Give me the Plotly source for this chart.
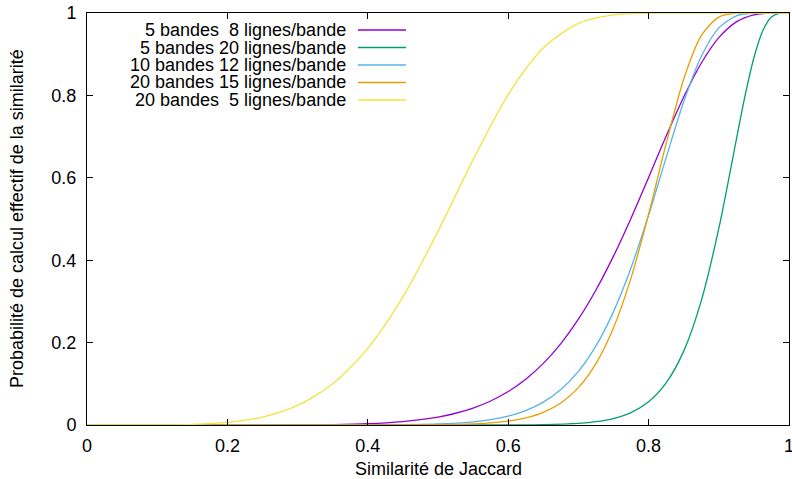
import plotly.graph_objects as go

# Similarité de Jaccard (x) and probability values (y)
s_purple = [0, 0.1, 0.2, 0.25, 0.3, 0.35, 0.4, 0.45, 0.475, 0.5, 0.525, 0.55, 0.575, 0.6,
            0.625, 0.65, 0.675, 0.7, 0.725, 0.75, 0.775, 0.8, 0.825, 0.85, 0.875, 0.9,
            0.925, 0.95, 0.975, 1.0]
p_purple = [0, 0, 0.0000128, 0.000076, 0.000328, 0.001125, 0.00327, 0.00838, 0.01289, 0.01938,
            0.02853, 0.04117, 0.05833, 0.08121, 0.1111, 0.1495, 0.1977, 0.2569, 0.3277, 0.4099,
            0.5020, 0.6008, 0.7012, 0.7962, 0.8781, 0.9401, 0.9785, 0.9957, 0.9998, 1.0]

s_green = [0, 0.2, 0.4, 0.5, 0.6, 0.65, 0.7, 0.725, 0.75, 0.775, 0.8, 0.825, 0.85, 0.875,
           0.9, 0.925, 0.9375, 0.95, 0.9625, 0.975, 0.9875, 1.0]
p_green = [0, 0, 0, 0.000005, 0.000183, 0.000906, 0.003985, 0.008023, 0.015756, 0.03018,
           0.05633, 0.1022, 0.1793, 0.3014, 0.4770, 0.6929, 0.7998, 0.8914, 0.9564, 0.9901,
           0.99946, 1.0]

s_blue = [0, 0.2, 0.4, 0.5, 0.55, 0.575, 0.6, 0.625, 0.65, 0.675, 0.7, 0.725, 0.75, 0.775,
          0.8, 0.825, 0.85, 0.875, 0.9, 0.925, 0.95, 0.975, 1.0]
p_blue = [0, 0, 0.00017, 0.00244, 0.00763, 0.01299, 0.02156, 0.03496, 0.05544, 0.08595,
          0.1301, 0.1920, 0.2752, 0.3817, 0.5093, 0.6490, 0.7844, 0.8945, 0.9638, 0.9931,
          0.9996, 1.0, 1.0]

s_orange = [0, 0.2, 0.4, 0.5, 0.55, 0.6, 0.625, 0.65, 0.675, 0.7, 0.725, 0.75, 0.775, 0.8,
            0.825, 0.85, 0.875, 0.9, 0.925, 0.95, 1.0]
p_orange = [0, 0, 0.00002, 0.00061, 0.00255, 0.00936, 0.01721, 0.03078, 0.05361, 0.09079,
            0.1490, 0.2359, 0.3572, 0.5115, 0.6830, 0.8393, 0.9449, 0.9901, 0.9994, 1.0, 1.0]

s_yellow = [0, 0.05, 0.1, 0.15, 0.2, 0.25, 0.3, 0.35, 0.4, 0.45, 0.5, 0.55, 0.6, 0.65, 0.7,
            0.75, 0.8, 0.85, 0.9, 0.95, 1.0]
p_yellow = [0, 0.00001, 0.0002, 0.0015, 0.0064, 0.0194, 0.0475, 0.0999, 0.186, 0.311, 0.470,
            0.644, 0.802, 0.915, 0.975, 0.9956, 0.9996, 1.0, 1.0, 1.0, 1.0]

series_names = ["5 bandes\u00a0\u00a08 lignes/bande", "5 bandes 20 lignes/bande",
                "10 bandes 12 lignes/bande", "20 bandes 15 lignes/bande",
                "20 bandes\u00a0\u00a05 lignes/bande"]
series_x = [s_purple, s_green, s_blue, s_orange, s_yellow]
series_y = [p_purple, p_green, p_blue, p_orange, p_yellow]
colors = ["#9400d3", "#009e73", "#56b4e9", "#e69f00", "#f0e442"]

tick_vals = [0, 0.2, 0.4, 0.6, 0.8, 1]
tick_text = ["0", "0.2", "0.4", "0.6", "0.8", "1"]

x_title = "Similarité de Jaccard"
y_title = "Probabilité de calcul effectif de la similarité"

FONT = "Liberation Sans, Arial, Helvetica, sans-serif"
FS = 18
W, H = 792, 479
L, R, T, B = 87, 3, 13, 54
ph = H - T - B
pw = W - L - R

fig = go.Figure()
for xs, ys, c, n in zip(series_x, series_y, colors, series_names):
    fig.add_trace(go.Scatter(x=xs, y=ys, mode="lines", name=n,
                             line=dict(color=c, width=1.3, shape="spline", smoothing=0.8),
                             showlegend=False, hoverinfo="skip"))

# gnuplot-style key: right-aligned text, line sample on the right
row_y = [30, 47.5, 65, 82.5, 100]
for i, (n, c) in enumerate(zip(series_names, colors)):
    yp = 1 - (row_y[i] - T) / ph
    fig.add_annotation(x=(348 - L) / pw, y=yp, xref="paper", yref="paper", text=n,
                       showarrow=False, xanchor="right", yanchor="middle",
                       font=dict(family=FONT, size=FS, color="#000"))
    fig.add_shape(type="line", xref="paper", yref="paper",
                  x0=(358 - L) / pw, x1=(406 - L) / pw, y0=yp, y1=yp,
                  line=dict(color=c, width=1.3))

# axis titles
fig.add_annotation(x=(438 - L) / pw, y=1 - (469.5 - T) / ph, xref="paper", yref="paper",
                   text=x_title, showarrow=False, xanchor="center", yanchor="middle",
                   font=dict(family=FONT, size=FS, color="#000"))
fig.add_annotation(x=(17 - L) / pw, y=1 - (219 - T) / ph, xref="paper", yref="paper",
                   text=y_title, showarrow=False, xanchor="center", yanchor="middle",
                   textangle=-90, font=dict(family=FONT, size=FS, color="#000"))

axis_common = dict(range=[0, 1], tickvals=tick_vals, ticktext=tick_text, ticks="inside",
                   ticklen=6, tickwidth=1, tickcolor="#000", showline=True, linecolor="#000",
                   linewidth=1, mirror="allticks", showgrid=False, zeroline=False,
                   automargin=False, ticklabeloverflow="allow",
                   tickfont=dict(family=FONT, size=FS, color="#000"))

fig.update_layout(
    width=W, height=H,
    margin=dict(l=L, r=R, t=T, b=B),
    paper_bgcolor="white", plot_bgcolor="white",
    xaxis=dict(**axis_common, ticklabelstandoff=4),
    yaxis=dict(**axis_common, ticklabelstandoff=6),
)

fig.write_html("out.html", config={"displayModeBar": False},
               post_script="document.body.style.margin='0';document.body.style.overflow='hidden';")
